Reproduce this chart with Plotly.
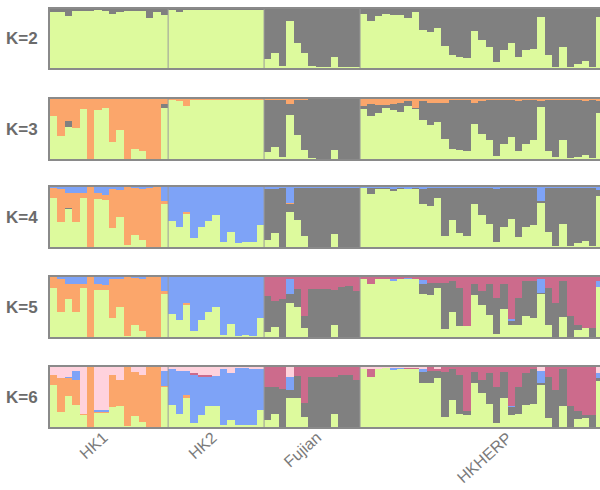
import plotly.graph_objects as go
from plotly.subplots import make_subplots

pop_names = ["HK1", "HK2", "Fujian", "HKHERP"]
pop_sizes = [16, 13, 13, 33]
k_labels = ["K=2", "K=3", "K=4", "K=5", "K=6"]

# ---------------- K = 2 ----------------
k2_green = [0.95, 0.95, 0.88, 0.96, 0.97, 0.97, 0.98, 0.97, 0.92, 0.95, 0.96, 0.97, 0.97, 0.84, 0.95, 0.90,
            0.98, 0.95, 0.99, 0.99, 0.99, 0.98, 0.99, 0.99, 0.99, 0.99, 0.99, 0.99, 0.99,
            0.16, 0.25, 0.03, 0.79, 0.42, 0.25, 0.03, 0.01, 0.01, 0.19, 0.01, 0.02, 0.01,
            0.92, 0.80, 0.88, 0.91, 0.89, 0.90, 0.84, 0.95, 0.65, 0.61, 0.67, 0.38, 0.22, 0.19, 0.17, 0.62, 0.48,
            0.36, 0.10, 0.30, 0.42, 0.19, 0.31, 0.33, 0.87, 0.22, 0.02, 0.35, 0.02, 0.06, 0.12, 0.02, 0.86]
k2_grey = [0.05, 0.05, 0.12, 0.04, 0.03, 0.03, 0.02, 0.03, 0.08, 0.05, 0.04, 0.03, 0.03, 0.16, 0.05, 0.10,
           0.02, 0.05, 0.01, 0.01, 0.01, 0.02, 0.01, 0.01, 0.01, 0.01, 0.01, 0.01, 0.01,
           0.84, 0.75, 0.97, 0.21, 0.58, 0.75, 0.97, 0.99, 0.99, 0.81, 0.99, 0.98, 0.99,
           0.08, 0.20, 0.12, 0.09, 0.11, 0.10, 0.16, 0.05, 0.35, 0.39, 0.33, 0.62, 0.78, 0.81, 0.83, 0.38, 0.52,
           0.64, 0.90, 0.70, 0.58, 0.81, 0.69, 0.67, 0.13, 0.78, 0.98, 0.65, 0.98, 0.94, 0.88, 0.98, 0.14]

# ---------------- K = 3 ----------------
k3_green = [0.71, 0.38, 0.53, 0.52, 0.84, 0.00, 0.81, 0.85, 0.28, 0.49, 0.00, 0.16, 0.14, 0.00, 0.00, 0.85,
            0.99, 0.97, 0.89, 0.99, 0.99, 0.99, 0.99, 0.99, 0.98, 0.99, 0.99, 0.99, 0.99,
            0.12, 0.20, 0.03, 0.73, 0.40, 0.15, 0.01, 0.00, 0.00, 0.15, 0.00, 0.00, 0.00,
            0.83, 0.72, 0.77, 0.85, 0.82, 0.79, 0.88, 0.83, 0.65, 0.56, 0.62, 0.34, 0.17, 0.15, 0.14, 0.58, 0.42,
            0.32, 0.05, 0.25, 0.37, 0.14, 0.25, 0.31, 0.86, 0.13, 0.03, 0.31, 0.02, 0.03, 0.07, 0.02, 0.76]
k3_grey = [0, 0, 0.11, 0, 0, 0, 0, 0, 0, 0, 0, 0, 0, 0, 0, 0.06,
           0, 0, 0, 0, 0, 0, 0, 0, 0, 0, 0, 0, 0,
           0.87, 0.79, 0.96, 0.19, 0.59, 0.83, 0.99, 1.00, 1.00, 0.85, 1.00, 1.00, 1.00,
           0.05, 0.19, 0.13, 0.05, 0.09, 0.14, 0.08, 0.02, 0.31, 0.37, 0.31, 0.60, 0.81, 0.83, 0.84, 0.36, 0.55,
           0.66, 0.93, 0.73, 0.61, 0.82, 0.73, 0.67, 0.10, 0.85, 0.95, 0.67, 0.96, 0.95, 0.89, 0.96, 0.21]
k3_orange = [0.29, 0.62, 0.36, 0.48, 0.16, 1.00, 0.19, 0.15, 0.72, 0.51, 1.00, 0.84, 0.86, 1.00, 1.00, 0.09,
             0.01, 0.03, 0.11, 0.01, 0.01, 0.01, 0.01, 0.01, 0.02, 0.01, 0.01, 0.01, 0.01,
             0.01, 0.01, 0.01, 0.08, 0.01, 0.02, 0, 0, 0, 0, 0, 0, 0,
             0.12, 0.09, 0.10, 0.10, 0.09, 0.07, 0.04, 0.15, 0.04, 0.07, 0.07, 0.06, 0.02, 0.02, 0.02, 0.06, 0.03,
             0.02, 0.02, 0.02, 0.02, 0.04, 0.02, 0.02, 0.04, 0.02, 0.02, 0.02, 0.02, 0.02, 0.04, 0.02, 0.03]

# ---------------- K = 4 ----------------
k4_green = [0.82, 0.41, 0.63, 0.41, 0.82, 0.00, 0.80, 0.78, 0.32, 0.50, 0.03, 0.20, 0.11, 0.00, 0.00, 0.72,
            0.43, 0.33, 0.55, 0.15, 0.34, 0.44, 0.53, 0.08, 0.25, 0.07, 0.08, 0.08, 0.37,
            0.12, 0.23, 0.00, 0.59, 0.45, 0.18, 0.00, 0.00, 0.00, 0.22, 0.00, 0.00, 0.00,
            0.98, 0.88, 0.97, 0.97, 0.94, 0.97, 0.97, 0.97, 0.71, 0.69, 0.82, 0.18, 0.45, 0.23, 0.18, 0.71, 0.54,
            0.39, 0.09, 0.34, 0.47, 0.16, 0.34, 0.37, 0.74, 0.25, 0.02, 0.38, 0.02, 0.06, 0.10, 0.02, 0.85]
k4_grey = [0, 0, 0.02, 0, 0, 0, 0, 0, 0, 0, 0, 0, 0, 0, 0, 0,
           0, 0, 0, 0, 0, 0, 0, 0, 0, 0, 0, 0, 0,
           0.84, 0.74, 0.99, 0.12, 0.53, 0.81, 0.99, 0.99, 0.99, 0.77, 0.99, 0.99, 0.99,
           0.00, 0.10, 0.01, 0.01, 0.02, 0.01, 0.00, 0.01, 0.26, 0.29, 0.16, 0.80, 0.53, 0.75, 0.80, 0.27, 0.44,
           0.59, 0.88, 0.64, 0.51, 0.82, 0.64, 0.61, 0.02, 0.73, 0.96, 0.60, 0.96, 0.92, 0.88, 0.96, 0.10]
k4_orange = [0.17, 0.56, 0.25, 0.49, 0.08, 1.00, 0.10, 0.08, 0.65, 0.45, 0.97, 0.79, 0.85, 0.99, 1.00, 0.04,
             0, 0, 0.04, 0, 0, 0, 0, 0, 0, 0, 0, 0, 0,
             0, 0, 0, 0.02, 0, 0, 0, 0, 0, 0, 0, 0, 0,
             0, 0, 0, 0, 0, 0, 0, 0, 0, 0, 0, 0, 0, 0, 0, 0, 0,
             0, 0, 0, 0, 0, 0, 0, 0, 0, 0, 0, 0, 0, 0, 0, 0]
k4_blue = [0.01, 0.03, 0.10, 0.10, 0.10, 0.00, 0.10, 0.14, 0.03, 0.05, 0.00, 0.01, 0.04, 0.01, 0.00, 0.24,
           0.57, 0.67, 0.41, 0.85, 0.66, 0.56, 0.47, 0.92, 0.75, 0.93, 0.92, 0.92, 0.63,
           0.04, 0.03, 0.01, 0.27, 0.02, 0.01, 0.01, 0.01, 0.01, 0.01, 0.01, 0.01, 0.01,
           0.02, 0.02, 0.02, 0.02, 0.04, 0.02, 0.03, 0.02, 0.03, 0.02, 0.02, 0.02, 0.02, 0.02, 0.02, 0.02, 0.02,
           0.02, 0.03, 0.02, 0.02, 0.02, 0.02, 0.02, 0.24, 0.02, 0.02, 0.02, 0.02, 0.02, 0.02, 0.02, 0.05]

# ---------------- K = 5 ----------------
k5_green = [0.82, 0.42, 0.64, 0.42, 0.81, 0.00, 0.79, 0.78, 0.32, 0.50, 0.02, 0.20, 0.10, 0.00, 0.00, 0.71,
            0.39, 0.28, 0.53, 0.10, 0.29, 0.42, 0.50, 0.03, 0.21, 0.02, 0.03, 0.02, 0.32,
            0.08, 0.17, 0.00, 0.57, 0.50, 0.15, 0.00, 0.00, 0.00, 0.20, 0.00, 0.00, 0.00,
            0.96, 0.88, 0.97, 0.97, 0.93, 0.97, 0.97, 0.97, 0.71, 0.70, 0.81, 0.14, 0.42, 0.18, 0.18, 0.70, 0.54,
            0.37, 0.05, 0.46, 0.20, 0.20, 0.35, 0.32, 0.71, 0.20, 0.00, 0.33, 0.00, 0.12, 0.15, 0.00, 0.83]
k5_grey = [0, 0, 0, 0, 0, 0, 0, 0, 0, 0, 0, 0, 0, 0, 0, 0,
           0, 0, 0, 0, 0, 0, 0, 0, 0, 0, 0, 0, 0,
           0.60, 0.43, 0.63, 0.14, 0.30, 0.20, 0.80, 0.80, 0.80, 0.58, 0.84, 0.85, 0.77,
           0, 0, 0, 0, 0, 0, 0, 0, 0.18, 0.20, 0.09, 0.76, 0.52, 0.64, 0.00, 0.18, 0.22,
           0.51, 0.60, 0.43, 0.07, 0.45, 0.58, 0.62, 0.03, 0.62, 0.57, 0.61, 0.35, 0.08, 0.00, 0.15, 0.00]
k5_orange = [0.18, 0.54, 0.25, 0.47, 0.08, 1.00, 0.10, 0.08, 0.65, 0.46, 0.98, 0.79, 0.86, 1.00, 1.00, 0.05,
             0, 0, 0.04, 0, 0, 0, 0, 0, 0, 0, 0, 0, 0,
             0, 0, 0, 0, 0, 0, 0, 0, 0, 0, 0, 0, 0,
             0, 0, 0, 0, 0, 0, 0, 0, 0, 0, 0, 0, 0, 0, 0, 0, 0,
             0, 0, 0, 0, 0, 0, 0, 0, 0, 0, 0, 0, 0, 0, 0, 0]
k5_blue = [0.00, 0.04, 0.11, 0.11, 0.11, 0.00, 0.11, 0.14, 0.03, 0.04, 0.00, 0.01, 0.04, 0.00, 0.00, 0.24,
           0.61, 0.72, 0.43, 0.90, 0.71, 0.58, 0.50, 0.97, 0.79, 0.98, 0.97, 0.98, 0.68,
           0, 0, 0, 0.25, 0, 0, 0, 0, 0, 0, 0, 0, 0,
           0, 0, 0, 0, 0.04, 0, 0.02, 0, 0.06, 0, 0, 0, 0, 0, 0, 0, 0,
           0, 0, 0, 0.03, 0, 0, 0, 0.22, 0, 0, 0, 0, 0, 0, 0, 0.11]
k5_magenta = [0, 0, 0, 0, 0, 0, 0, 0, 0, 0, 0, 0, 0, 0, 0, 0,
              0, 0, 0, 0, 0, 0, 0, 0, 0, 0, 0, 0, 0,
              0.32, 0.40, 0.37, 0.04, 0.20, 0.65, 0.20, 0.20, 0.20, 0.22, 0.16, 0.15, 0.23,
              0.04, 0.12, 0.03, 0.03, 0.03, 0.03, 0.01, 0.03, 0.05, 0.10, 0.10, 0.10, 0.06, 0.18, 0.82, 0.12, 0.24,
              0.12, 0.35, 0.11, 0.70, 0.35, 0.07, 0.06, 0.04, 0.18, 0.43, 0.06, 0.65, 0.80, 0.85, 0.85, 0.06]

# ---------------- K = 6 ----------------
k6_green = [0.70, 0.25, 0.52, 0.37, 0.20, 0.00, 0.24, 0.24, 0.34, 0.35, 0.02, 0.18, 0.08, 0.00, 0.00, 0.66,
            0.37, 0.22, 0.49, 0.06, 0.20, 0.35, 0.35, 0.03, 0.12, 0.03, 0.03, 0.03, 0.29,
            0.11, 0.21, 0.00, 0.48, 0.48, 0.17, 0.00, 0.00, 0.00, 0.21, 0.00, 0.00, 0.00,
            0.97, 0.84, 0.97, 0.98, 0.95, 0.97, 0.97, 0.97, 0.73, 0.73, 0.82, 0.17, 0.45, 0.22, 0.20, 0.73, 0.56,
            0.39, 0.07, 0.48, 0.20, 0.21, 0.37, 0.39, 0.70, 0.15, 0.00, 0.35, 0.00, 0.14, 0.15, 0.00, 0.76]
k6_grey = [0, 0, 0, 0, 0, 0, 0, 0, 0, 0, 0, 0, 0, 0, 0, 0,
           0, 0, 0, 0, 0, 0, 0, 0, 0, 0, 0, 0, 0,
           0.56, 0.45, 0.63, 0.14, 0.37, 0.23, 0.84, 0.84, 0.84, 0.62, 0.87, 0.87, 0.79,
           0, 0, 0, 0, 0, 0, 0, 0, 0.18, 0.20, 0.11, 0.74, 0.51, 0.65, 0.07, 0.18, 0.22,
           0.51, 0.60, 0.43, 0.13, 0.46, 0.53, 0.57, 0.03, 0.69, 0.62, 0.61, 0.35, 0.12, 0.05, 0.20, 0.05]
k6_orange = [0.17, 0.56, 0.30, 0.42, 0.01, 1.00, 0.01, 0.01, 0.53, 0.44, 0.98, 0.74, 0.79, 1.00, 1.00, 0.02,
             0, 0, 0.04, 0, 0, 0, 0, 0, 0, 0, 0, 0, 0,
             0, 0, 0, 0, 0, 0, 0, 0, 0, 0, 0, 0, 0,
             0, 0, 0, 0, 0, 0, 0, 0, 0, 0, 0, 0, 0, 0, 0, 0, 0,
             0, 0, 0, 0, 0, 0, 0, 0, 0, 0, 0, 0, 0, 0, 0, 0]
k6_blue = [0, 0, 0.01, 0.14, 0.01, 0, 0.03, 0.03, 0, 0, 0, 0, 0, 0, 0, 0.25,
           0.59, 0.71, 0.40, 0.81, 0.63, 0.49, 0.50, 0.94, 0.78, 0.95, 0.95, 0.93, 0.67,
           0, 0, 0, 0.22, 0, 0, 0, 0, 0, 0, 0, 0, 0,
           0, 0, 0, 0, 0.03, 0.02, 0, 0, 0.06, 0, 0, 0, 0, 0, 0, 0, 0,
           0, 0, 0, 0.02, 0, 0, 0, 0.20, 0, 0, 0, 0, 0, 0, 0, 0.09]
k6_magenta = [0, 0, 0, 0, 0, 0, 0, 0, 0, 0, 0, 0, 0, 0, 0, 0,
              0, 0, 0, 0.03, 0.04, 0.03, 0, 0, 0, 0, 0, 0, 0,
              0.33, 0.34, 0.37, 0.00, 0.15, 0.60, 0.16, 0.16, 0.16, 0.17, 0.13, 0.13, 0.21,
              0, 0.13, 0, 0, 0, 0, 0.01, 0.01, 0, 0.07, 0.04, 0.09, 0.04, 0.13, 0.73, 0.09, 0.22,
              0.10, 0.33, 0.09, 0.65, 0.33, 0.10, 0.04, 0, 0.16, 0.38, 0.04, 0.65, 0.74, 0.80, 0.80, 0]
k6_pink = [0.13, 0.19, 0.17, 0.07, 0.78, 0, 0.72, 0.72, 0.13, 0.21, 0, 0.08, 0.13, 0, 0, 0.07,
           0.04, 0.07, 0.07, 0.10, 0.13, 0.13, 0.15, 0.03, 0.10, 0.02, 0.02, 0.04, 0.04,
           0, 0, 0, 0.16, 0, 0, 0, 0, 0, 0, 0, 0, 0,
           0.03, 0.03, 0.03, 0.02, 0.02, 0.01, 0.02, 0.02, 0.03, 0, 0.03, 0, 0, 0, 0, 0, 0,
           0, 0, 0, 0, 0, 0, 0, 0.07, 0, 0, 0, 0, 0, 0, 0, 0.10]

COL_GREEN = "#ddfa9d"
COL_GREY = "#808080"
COL_ORANGE = "#fba66b"
COL_BLUE = "#7ea3f7"
COL_MAGENTA = "#cc6b8c"
COL_PINK = "#ffd2dd"
FRAME = "#8a8a8a"

panels = [
    [(k2_green, COL_GREEN), (k2_grey, COL_GREY)],
    [(k3_green, COL_GREEN), (k3_grey, COL_GREY), (k3_orange, COL_ORANGE)],
    [(k4_green, COL_GREEN), (k4_grey, COL_GREY), (k4_orange, COL_ORANGE), (k4_blue, COL_BLUE)],
    [(k5_green, COL_GREEN), (k5_grey, COL_GREY), (k5_orange, COL_ORANGE), (k5_blue, COL_BLUE),
     (k5_magenta, COL_MAGENTA)],
    [(k6_green, COL_GREEN), (k6_grey, COL_GREY), (k6_orange, COL_ORANGE), (k6_blue, COL_BLUE),
     (k6_magenta, COL_MAGENTA), (k6_pink, COL_PINK)],
]

W, H = 600, 490
ML, MR = 50, 0
PW = W - ML - MR
# panel vertical extents in pixels (top, bottom)
panel_px = [(9, 68), (99, 159), (187, 247), (277, 337), (367, 427)]

n = sum(pop_sizes)
xs = list(range(n))

fig = make_subplots(rows=5, cols=1)
for r, series in enumerate(panels, start=1):
    for vals, col in series:
        fig.add_trace(go.Bar(x=xs, y=vals, width=1, marker=dict(color=col, line=dict(width=0)),
                             showlegend=False, hoverinfo="skip"), row=r, col=1)

layout_upd = {}
for r, (t, b) in enumerate(panel_px, start=1):
    sx = "" if r == 1 else str(r)
    layout_upd["xaxis" + sx] = dict(domain=[0, 1], range=[-0.5, 74.0], showticklabels=False,
                                    showgrid=False, zeroline=False, ticks="",
                                    showline=True, mirror=True, linecolor=FRAME, linewidth=2)
    layout_upd["yaxis" + sx] = dict(domain=[1 - b / H, 1 - t / H], range=[0, 1], showticklabels=False,
                                    showgrid=False, zeroline=False, ticks="",
                                    showline=True, mirror=False, linecolor=FRAME, linewidth=2)
fig.update_layout(**layout_upd)

# population boundary lines
bounds = []
acc = 0
for s in pop_sizes[:-1]:
    acc += s
    bounds.append(acc - 0.5)
shapes = []
for r in range(1, 6):
    sx = "" if r == 1 else str(r)
    for bx in bounds:
        shapes.append(dict(type="line", xref="x" + sx, yref="y" + sx, x0=bx, x1=bx, y0=0, y1=1,
                           line=dict(color="#9a9a9a", width=1), layer="above"))

annotations = []
for lab, (t, b) in zip(k_labels, panel_px):
    annotations.append(dict(text="<b>" + lab + "</b>", xref="paper", yref="paper",
                            x=(22 - ML) / PW, y=1 - ((t + b) / 2) / H, showarrow=False,
                            xanchor="center", yanchor="middle",
                            font=dict(family="Liberation Sans, Arial", size=17, color="#6b6b6b")))

label_x = [8.1, 22.9, 37.1, 62.9]
for name, lx in zip(pop_names, label_x):
    annotations.append(dict(text=name, xref="x5", yref="paper", x=lx, y=1 - 426 / H,
                            showarrow=False, textangle=-42, xanchor="right", yanchor="top",
                            font=dict(family="Liberation Sans, Arial", size=16, color="#7a7a7a")))

fig.update_layout(width=W, height=H, barmode="stack", bargap=0, bargroupgap=0,
                  margin=dict(l=ML, r=MR, t=0, b=0), plot_bgcolor="white", paper_bgcolor="white",
                  shapes=shapes, annotations=annotations, showlegend=False)

fig.write_html("out.html", config={"displayModeBar": False, "staticPlot": True},
               post_script="document.body.style.margin='0px';document.body.style.padding='0px';")
